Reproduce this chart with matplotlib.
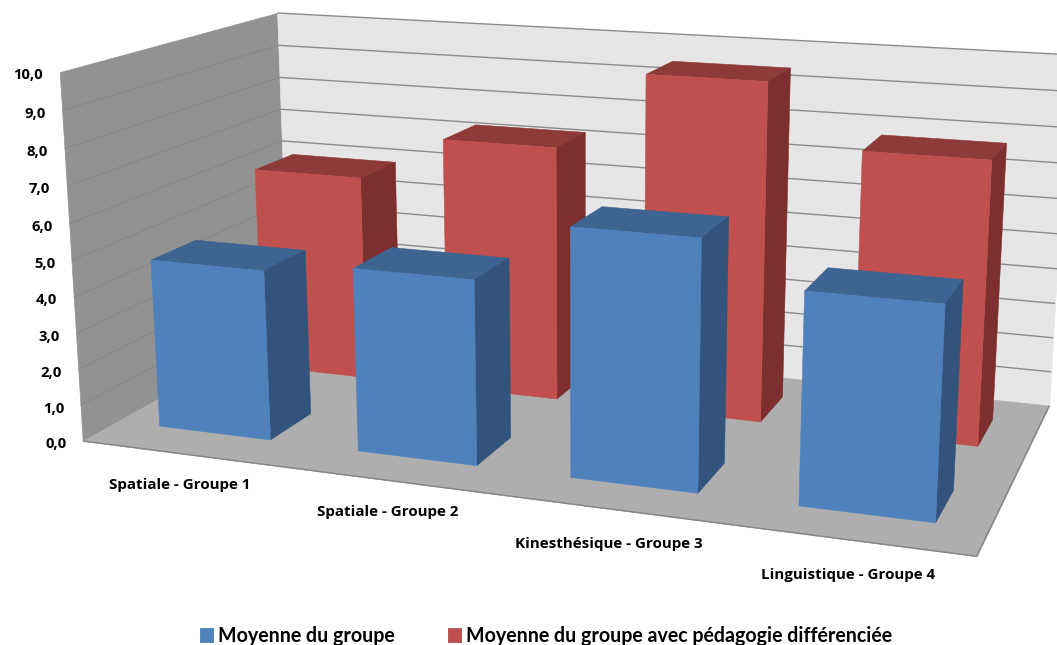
import matplotlib
matplotlib.use('Agg')
import matplotlib.pyplot as plt
from matplotlib.patches import Patch
from mpl_toolkits.mplot3d.art3d import Poly3DCollection, Line3DCollection
import numpy as np

plt.rcParams['font.family'] = ['Open Sans', 'DejaVu Sans']

categories = ['Spatiale - Groupe 1', 'Spatiale - Groupe 2',
              'Kinesthésique - Groupe 3', 'Linguistique - Groupe 4']
series_names = ['Moyenne du groupe', 'Moyenne du groupe avec pédagogie différenciée']
moyenne = [4.7, 5.0, 6.6, 5.5]
moyenne_diff = [6.0, 7.3, 9.5, 7.8]
z_ticks = [0, 1, 2, 3, 4, 5, 6, 7, 8, 9, 10]
cat_label_pos = [(180, 485), (388, 512), (609, 544), (848, 575)]

W, H = 1057, 645
bar_w, bar_d = 0.566, 0.2

# Excel's camera: fit a projection from known points of the chart (world -> pixels)
calib = [((0, 0, 0), (82, 441)), ((0, 0, 10), (60, 72)), ((0, 1, 10), (276, 13)),
         ((0, 1, 0), (289, 325)), ((4, 0, 0), (976, 557)), ((4, 1, 0), (1049, 406)),
         ((4, 1, 10), (1068, 54)),
         ((3.783, 0.15, 5.5), (946, 303)), ((3.783, 0.85, 7.8), (1008, 142)),
         ((2.783, 0.15, 6.6), (700, 238)), ((2.783, 0.85, 9.5), (791, 69)),
         ((1.783, 0.65, 7.3), (557, 150)), ((0.783, 0.15, 4.7), (265, 270))]
rows = []
for (X, Y, Z), (u, v) in calib:
    rows.append([X, Y, Z, 1, 0, 0, 0, 0, -u*X, -u*Y, -u*Z, -u])
    rows.append([0, 0, 0, 0, X, Y, Z, 1, -v*X, -v*Y, -v*Z, -v])
P = np.linalg.svd(np.array(rows, float))[2][-1].reshape(3, 4)
P /= P[2, 3]
M_pix = np.array([P[0], P[1], [0, 1, 0, 0], P[2]])


def to_pix(x, y, z):
    h = P @ [x, y, z, 1]
    return h[0]/h[2], h[1]/h[2]


fig = plt.figure(figsize=(W/100, H/100), dpi=100, facecolor='white')
ax = fig.add_axes([0, 0, 1, 1], projection='3d', computed_zorder=False)
ax.set_axis_off()
ax.apply_aspect = lambda position=None: None


def get_proj():
    # pixels -> whatever 2D limits the axes has
    x0, x1 = ax.viewLim.intervalx
    y0, y1 = ax.viewLim.intervaly
    S = np.array([[(x1-x0)/W, 0, 0, x0],
                  [0, -(y1-y0)/H, 0, y1],
                  [0, 0, 1, 0],
                  [0, 0, 0, 1]])
    return S @ M_pix


ax.get_proj = get_proj

# walls and floor
left = [(0, 0, 0), (0, 1, 0), (0, 1, 10), (0, 0, 10)]
back = [(0, 1, 0), (4, 1, 0), (4, 1, 10), (0, 1, 10)]
floor = [(0, 0, 0), (4, 0, 0), (4, 1, 0), (0, 1, 0)]
for poly, col in [(left, '#929292'), (back, '#E6E6E6'), (floor, '#AEAEAE')]:
    ax.add_collection3d(Poly3DCollection([poly], facecolors=col, edgecolors=col, linewidths=0.5, zorder=1))

back_grid = [[(0, 1, z), (4, 1, z)] for z in z_ticks[1:]]
left_grid = [[(0, 0, z), (0, 1, z)] for z in z_ticks[1:-1]]
edges = [[(0, 0, 0), (4, 0, 0)], [(4, 0, 0), (4, 1, 0)]]
ax.add_collection3d(Line3DCollection(back_grid, colors='#8C8C8C', linewidths=1.0, zorder=2))
ax.add_collection3d(Line3DCollection(left_grid, colors='#858585', linewidths=0.6, zorder=2))
ax.add_collection3d(Line3DCollection(edges, colors='#858585', linewidths=1.0, zorder=2))

blue = ('#4F81BD', '#3E6492', '#31537C')
red = ('#C0504D', '#8E3A38', '#7C2F2E')


def draw_bars(values, y0, cols, zo):
    front, top, side = cols
    # bar3d face order: bottom, top, front, back, left, right
    faces = ['none', top, front, 'none', 'none', side]
    for i, v in enumerate(values):
        ax.bar3d(i + 0.217, y0, 0, bar_w, bar_d, v, color=faces, edgecolor=faces,
                 linewidth=0.4, shade=False, zorder=zo)


draw_bars(moyenne_diff, 0.65, red, 3)
draw_bars(moyenne, 0.15, blue, 4)

# labels
for z in z_ticks:
    px, py = to_pix(0, 0, z)
    fig.text((px - 16.5)/W, 1 - (py + 3)/H, f'{z:.1f}'.replace('.', ','), ha='right', va='center',
             fontsize=10.7, fontweight='bold', color='black')
for c, (cx, cy) in zip(categories, cat_label_pos):
    fig.text(cx/W, 1 - cy/H, c, ha='center', va='center', fontsize=10.9,
             fontweight='bold', color='black')

handles = [Patch(facecolor=blue[0], edgecolor='#41719C', lw=0.5),
           Patch(facecolor=red[0], edgecolor='#9C3F3C', lw=0.5)]
fig.legend(handles, series_names, loc='center', bbox_to_anchor=(546/W, 1 - 636/H), ncol=2,
           frameon=False, handlelength=0.7, handleheight=0.7, handletextpad=0.25,
           columnspacing=2.7, prop={'family': 'Lato', 'size': 14.1, 'weight': 'bold'})

fig.savefig('out.png', dpi=100, facecolor='white')
plt.close()
